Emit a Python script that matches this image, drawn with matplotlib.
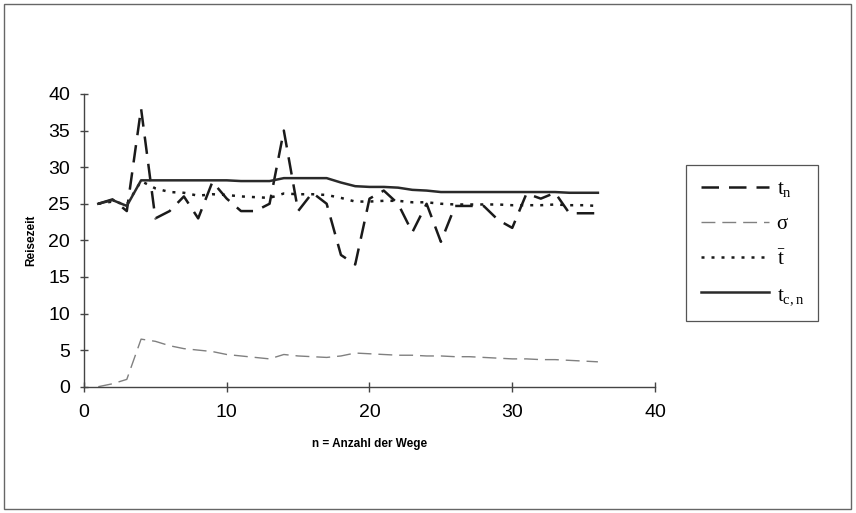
import numpy as np
import matplotlib
matplotlib.use("Agg")
import matplotlib.pyplot as plt
from matplotlib.patches import Rectangle

plt.rcParams['font.family'] = ['Liberation Sans', 'DejaVu Sans']
plt.rcParams['mathtext.fontset'] = 'custom'
plt.rcParams['mathtext.rm'] = 'Liberation Serif'
plt.rcParams['mathtext.it'] = 'Liberation Serif:italic'

# Daten
n = list(range(1, 37))
t_n = [25.0, 25.6, 24.0, 38.0, 23.0, 24.0, 26.0, 23.0, 28.0, 25.7,
       24.0, 24.0, 25.0, 35.0, 24.0, 26.5, 25.0, 18.0, 16.7, 25.7,
       26.8, 25.0, 21.1, 25.0, 19.8, 24.7, 24.7, 24.7, 22.8, 21.7,
       26.4, 25.7, 26.5, 23.7, 23.7, 23.7]
sigma = [0.0, 0.4, 1.0, 6.5, 6.2, 5.6, 5.2, 5.0, 4.8, 4.4,
         4.2, 4.0, 3.8, 4.4, 4.2, 4.1, 4.0, 4.2, 4.6, 4.5,
         4.4, 4.3, 4.3, 4.2, 4.2, 4.1, 4.1, 4.0, 3.9, 3.8,
         3.8, 3.7, 3.7, 3.6, 3.5, 3.4]
t_mean = [25.0, 25.3, 24.9, 28.1, 27.1, 26.6, 26.5, 26.1, 26.3, 26.2,
          26.0, 25.9, 25.8, 26.4, 26.3, 26.3, 26.2, 25.8, 25.3, 25.3,
          25.4, 25.4, 25.2, 25.2, 25.0, 24.9, 24.9, 24.9, 24.9, 24.8,
          24.8, 24.8, 24.9, 24.8, 24.8, 24.7]
t_cn = [25.0, 25.5, 24.7, 28.2, 28.2, 28.2, 28.2, 28.2, 28.2, 28.2,
        28.1, 28.1, 28.1, 28.5, 28.5, 28.5, 28.5, 27.9, 27.4, 27.3,
        27.3, 27.2, 26.9, 26.8, 26.6, 26.6, 26.6, 26.6, 26.6, 26.6,
        26.6, 26.6, 26.6, 26.5, 26.5, 26.5]

fig = plt.figure(figsize=(8.56, 5.13), dpi=100)
ax = fig.add_axes([0.0981, 0.2462, 0.6671, 0.5706])

ax.plot(n, t_n, color='#1a1a1a', lw=1.8, dashes=(7, 4), label=r'$\mathrm{t_n}$')
ax.plot(n, sigma, color='#808080', lw=1.0, dashes=(10, 5), label='σ')
ax.plot(n, t_mean, color='#1a1a1a', lw=1.8, dashes=(1.2, 2.8), label=r'$\bar{\mathrm{t}}$')
ax.plot(n, t_cn, color='#2a2a2a', lw=1.8, label=r'$\mathrm{t_{c,n}}$')

ax.set_xlim(0, 40)
ax.set_ylim(0, 40)
ax.set_xticks([0, 10, 20, 30, 40])
ax.set_yticks(np.arange(0, 41, 5))
for s in ['top', 'right']:
    ax.spines[s].set_visible(False)
for s in ['left', 'bottom']:
    ax.spines[s].set_color('#444444')
    ax.spines[s].set_linewidth(1.0)
ax.tick_params(axis='y', direction='inout', length=6, width=1, color='#444444',
               labelsize=14, pad=7)
ax.tick_params(axis='x', direction='inout', length=7, width=1, color='#444444',
               labelsize=14, pad=9)

ax.set_xlabel('n = Anzahl der Wege', fontsize=8.5, fontweight='bold', labelpad=12)
ax.set_ylabel('Reisezeit', fontsize=8.5, fontweight='bold', labelpad=8)

leg = fig.legend(loc='upper left', bbox_to_anchor=(0.8014, 0.6784),
                 bbox_transform=fig.transFigure,
                 prop={'family': 'Liberation Serif', 'size': 15},
                 handlelength=3.3, labelspacing=0.75, handletextpad=0.35,
                 borderpad=0.7, borderaxespad=0, fancybox=False,
                 edgecolor='#555555', framealpha=1)
leg.get_frame().set_linewidth(0.9)

# Rahmen um die ganze Grafik
fig.patches.append(Rectangle((0.005, 0.008), 0.989, 0.984, transform=fig.transFigure,
                             fill=False, edgecolor='#666666', lw=1.0))

fig.savefig('out.png', dpi=100)
